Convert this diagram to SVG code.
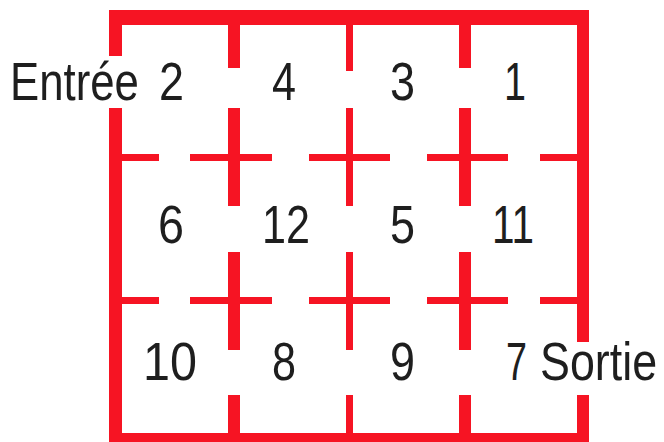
<svg xmlns="http://www.w3.org/2000/svg" width="664" height="442" viewBox="0 0 664 442">
<style>
.w{fill:#f61423}
.t{font-family:"Liberation Sans",Arial,sans-serif;font-size:54px;fill:#1e1e1e}
</style>
<rect width="664" height="442" fill="#fff"/>
<g id="walls">
<rect class="w" x="109" y="10" width="480" height="15"/>
<rect class="w" x="109" y="10" width="13" height="46"/>
<rect class="w" x="109" y="108" width="13" height="334"/>
<rect class="w" x="577" y="10" width="12" height="332"/>
<rect class="w" x="577" y="395" width="12" height="47"/>
<rect class="w" x="109" y="433" width="480" height="9"/>
<rect class="w" x="228" y="25" width="12" height="43"/>
<rect class="w" x="346" y="25" width="7" height="46"/>
<rect class="w" x="459" y="25" width="12" height="43"/>
<rect class="w" x="228" y="395" width="12" height="38"/>
<rect class="w" x="346" y="395" width="7" height="38"/>
<rect class="w" x="459" y="395" width="12" height="38"/>
<rect class="w" x="122" y="154" width="37" height="7"/>
<rect class="w" x="190" y="154" width="82" height="7"/>
<rect class="w" x="309" y="154" width="81" height="7"/>
<rect class="w" x="427" y="154" width="81" height="7"/>
<rect class="w" x="540" y="154" width="37" height="7"/>
<rect class="w" x="228" y="108" width="12" height="98"/>
<rect class="w" x="346" y="108" width="7" height="98"/>
<rect class="w" x="459" y="108" width="12" height="98"/>
<rect class="w" x="122" y="297" width="37" height="7"/>
<rect class="w" x="190" y="297" width="82" height="7"/>
<rect class="w" x="309" y="297" width="81" height="7"/>
<rect class="w" x="427" y="297" width="81" height="7"/>
<rect class="w" x="540" y="297" width="37" height="7"/>
<rect class="w" x="228" y="252" width="12" height="98"/>
<rect class="w" x="346" y="252" width="7" height="98"/>
<rect class="w" x="459" y="252" width="12" height="98"/>
</g>
<g id="labels">
<text class="t" transform="translate(10,100) scale(0.81,1)">Entrée</text>
<text class="t" x="159" y="100" textLength="25" lengthAdjust="spacingAndGlyphs">2</text>
<text class="t" x="272" y="100" textLength="24" lengthAdjust="spacingAndGlyphs">4</text>
<text class="t" x="390" y="100" textLength="25" lengthAdjust="spacingAndGlyphs">3</text>
<text class="t" x="504" y="100" textLength="22" lengthAdjust="spacingAndGlyphs">1</text>
<text class="t" x="158" y="243" textLength="26" lengthAdjust="spacingAndGlyphs">6</text>
<text class="t" x="262" y="243" textLength="48" lengthAdjust="spacingAndGlyphs">12</text>
<text class="t" x="390" y="243" textLength="25" lengthAdjust="spacingAndGlyphs">5</text>
<text class="t" x="492" y="243" textLength="42" lengthAdjust="spacingAndGlyphs">11</text>
<text class="t" x="143" y="380" textLength="54" lengthAdjust="spacingAndGlyphs">10</text>
<text class="t" x="272" y="380" textLength="24" lengthAdjust="spacingAndGlyphs">8</text>
<text class="t" x="390" y="380" textLength="25" lengthAdjust="spacingAndGlyphs">9</text>
<text class="t" x="506" y="380" textLength="21" lengthAdjust="spacingAndGlyphs">7</text>
<text class="t" transform="translate(540,380) scale(0.83,1)">Sortie</text>
</g>
</svg>
